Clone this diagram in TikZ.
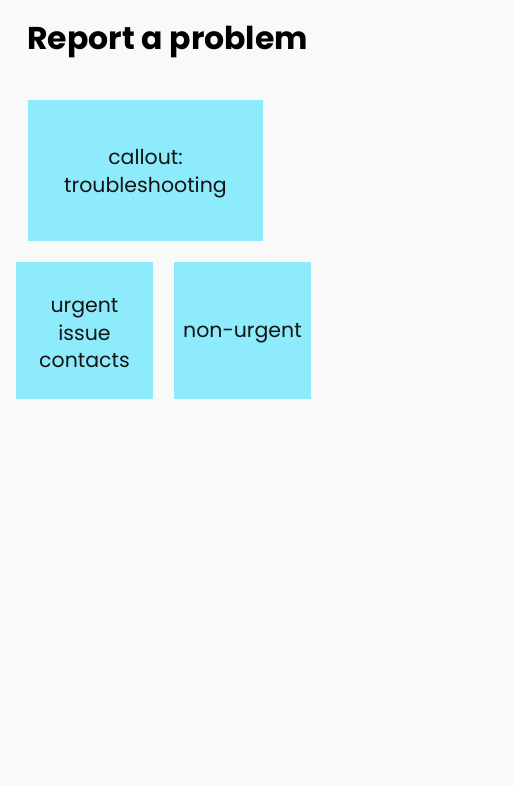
\documentclass[tikz,border=0pt]{standalone}
\usepackage{fontspec}
\setmainfont{Poppins}[Ligatures=NoCommon]
\definecolor{bg}{HTML}{F9F9F9}
\definecolor{boxcyan}{HTML}{8EEBFC}
\begin{document}
\begin{tikzpicture}[x=1pt,y=-1pt,
  card/.style={fill=boxcyan, draw=none, inner sep=0pt},
  cardtext/.style={inner sep=0pt, align=center, yshift=-3pt,
    font=\fontsize{20.5}{27.5}\selectfont, text=black!92},
  title/.style={anchor=base west, inner sep=0pt, font=\fontsize{31.5}{36}\selectfont\bfseries}]
\fill[bg] (0,0) rectangle (513,786);
\useasboundingbox (0,0) rectangle (513,786);
\node[title] (t) at (27,50) {Report a problem};
\node[card, minimum width=235pt, minimum height=141pt] (c1) at (145.5,170.5) {};
\node[cardtext] (c1t) at (c1.center) {callout:\\troubleshooting};
\node[card, minimum width=137pt, minimum height=137pt] (c2) at (84.5,330.5) {};
\node[cardtext] (c2t) at (c2.center) {urgent\\issue\\contacts};
\node[card, minimum width=137pt, minimum height=137pt] (c3) at (242.5,330.5) {};
\node[cardtext] (c3t) at (c3.center) {non-urgent};
\end{tikzpicture}
\end{document}
